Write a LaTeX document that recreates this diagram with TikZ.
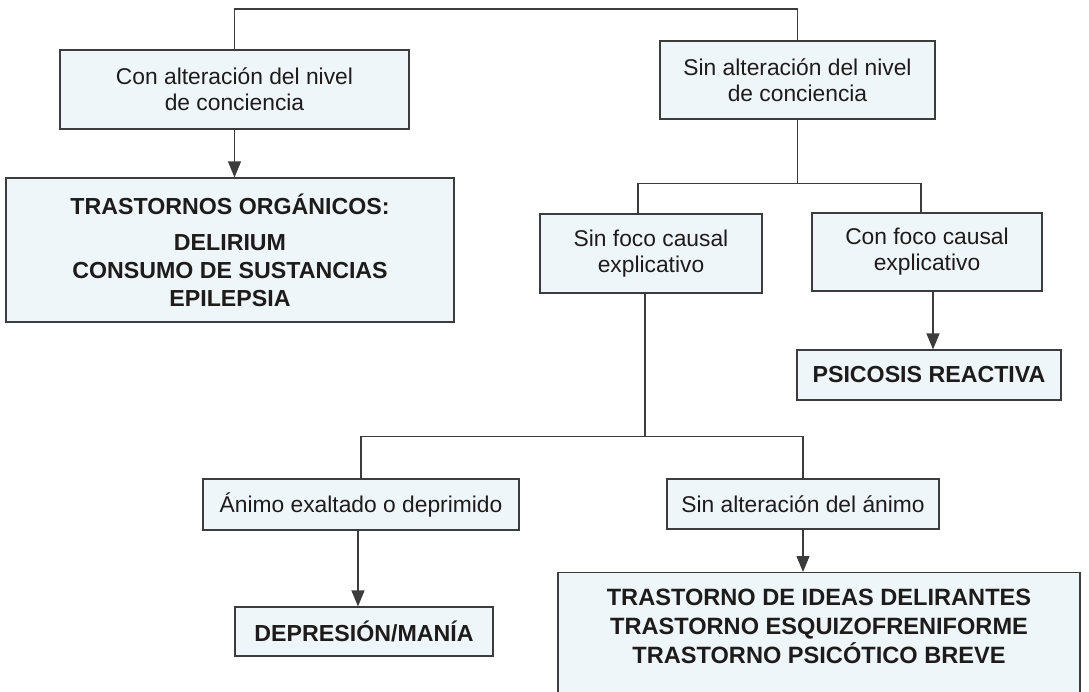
\documentclass[tikz,border=0pt]{standalone}
\usepackage{fontspec}
\setmainfont{Liberation Sans}
\usetikzlibrary{arrows.meta}
\definecolor{dx-fill}{HTML}{EFF6FA}
\definecolor{dx-line}{HTML}{3C3C3C}
\definecolor{dx-text}{HTML}{1E1B1C}

\begin{document}
\begin{tikzpicture}[x=1pt,y=-1pt,
    caja/.style={draw=dx-line, fill=dx-fill, line width=1.2pt, align=center, text=dx-text,
      inner sep=0pt, font=\fontsize{22.8}{26}\selectfont},
    cajab/.style={caja, font=\fontsize{23.2}{28}\selectfont\bfseries},
    rama/.style={draw=dx-line, line width=1.2pt},
    flecha/.style={rama, -{Triangle[width=13pt,length=16pt]}}]
    \useasboundingbox (0,0) rectangle (1089,691);
    \clip (0,0) rectangle (1089,691);

    % primer nivel
    \node[caja, minimum width=349pt, minimum height=79pt] (conNivel) at (234.5,89.5) {Con alteración del nivel\\de conciencia};
    \node[caja, minimum width=275pt, minimum height=78pt] (sinNivel) at (797.5,80) {Sin alteración del nivel\\de conciencia};
    \node[cajab, minimum width=448pt, minimum height=144pt] (organicos) at (230,250) {TRASTORNOS ORGÁNICOS:\\[8pt]DELIRIUM\\CONSUMO DE SUSTANCIAS\\EPILEPSIA};

    % segundo nivel
    \node[caja, minimum width=222pt, minimum height=79pt] (sinFoco) at (651,253.5) {Sin foco causal\\explicativo};
    \node[caja, minimum width=230pt, minimum height=78pt] (conFoco) at (927,252) {Con foco causal\\explicativo};
    \node[cajab, minimum width=264pt, minimum height=50pt] (reactiva) at (929,375) {PSICOSIS REACTIVA};

    % tercer nivel
    \node[caja, minimum width=316pt, minimum height=51pt] (animoAlt) at (361,504.5) {Ánimo exaltado o deprimido};
    \node[caja, minimum width=272pt, minimum height=50pt] (sinAnimo) at (803,504) {Sin alteración del ánimo};
    \node[cajab, minimum width=258pt, minimum height=49pt] (depresion) at (364,631.5) {DEPRESIÓN/MANÍA};
    \node[cajab, font=\fontsize{23.6}{29}\selectfont\bfseries, anchor=north, minimum width=522pt, inner ysep=16pt] (delirantes) at (819,572)
      {TRASTORNO DE IDEAS DELIRANTES\\TRASTORNO ESQUIZOFRENIFORME\\TRASTORNO PSICÓTICO BREVE\rule[-40pt]{0pt}{40pt}};

    % conexiones
    \coordinate (raiz) at (513,9);
    \draw[rama] (conNivel.north) |- (raiz) -| (sinNivel.north);
    \draw[rama] (sinNivel.south) -- ++(0,64) coordinate (nudoC);
    \draw[rama] ([xshift=-13pt]sinFoco.north) |- (nudoC) -| ([xshift=-6pt]conFoco.north);
    \draw[rama] ([xshift=-6pt]sinFoco.south) -- ++(0,143) coordinate (nudoD);
    \draw[rama] (animoAlt.north) |- (nudoD) -| (sinAnimo.north);

    \draw[flecha] (conNivel.south) -- (conNivel.south |- organicos.north);
    \draw[flecha] ([xshift=6pt]conFoco.south) -- ([xshift=6pt]conFoco.south |- reactiva.north);
    \draw[flecha] ([xshift=-3pt]animoAlt.south) -- ([xshift=-3pt]animoAlt.south |- depresion.north);
    \draw[flecha] (sinAnimo.south) -- (sinAnimo.south |- delirantes.north);
\end{tikzpicture}
\end{document}
